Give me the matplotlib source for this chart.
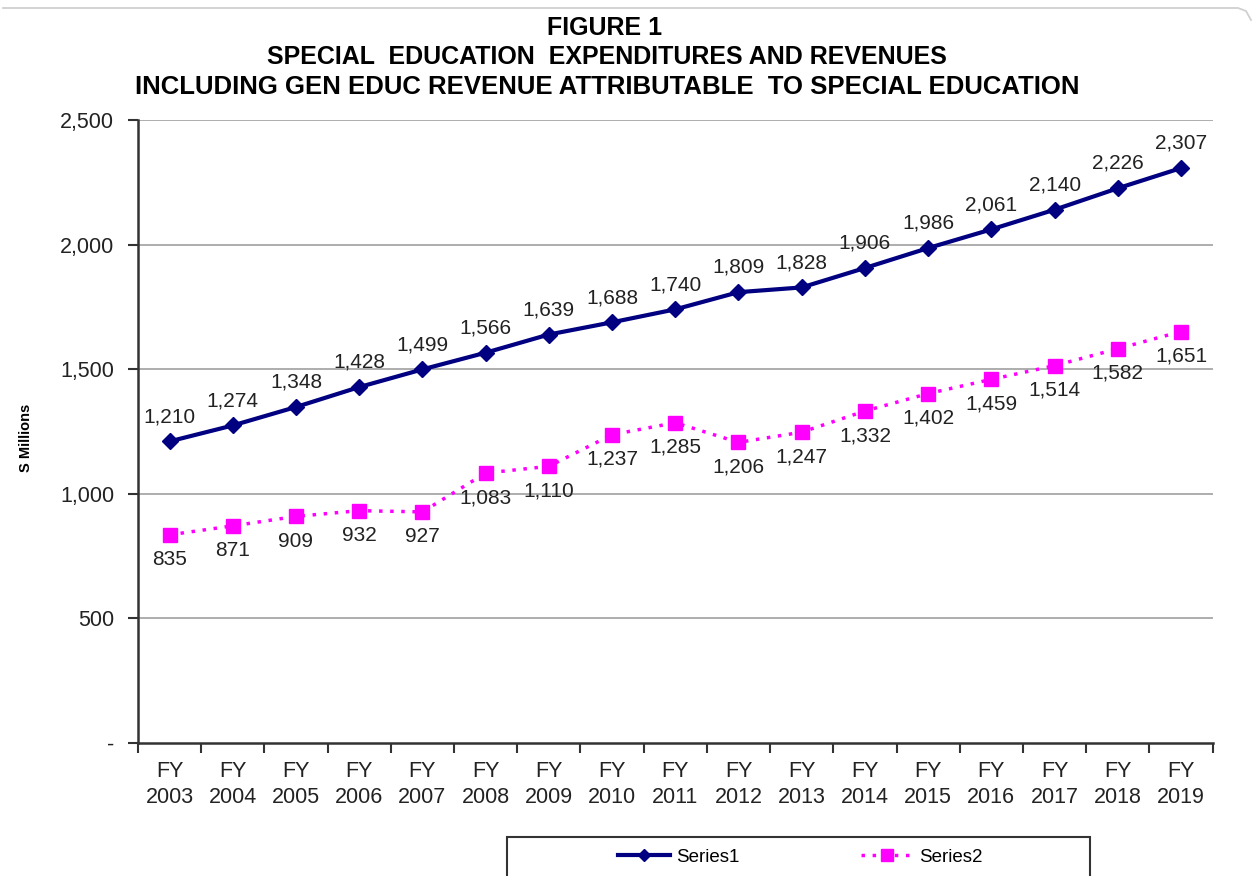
import matplotlib.pyplot as plt
from matplotlib.lines import Line2D
from matplotlib.patches import Rectangle
from matplotlib.ticker import FixedLocator

plt.rcParams['font.family'] = ['Liberation Sans', 'DejaVu Sans']

# Data
years = [f"FY\n{y}" for y in range(2003, 2020)]
series1 = [1210, 1274, 1348, 1428, 1499, 1566, 1639, 1688, 1740, 1809,
           1828, 1906, 1986, 2061, 2140, 2226, 2307]
series2 = [835, 871, 909, 932, 927, 1083, 1110, 1237, 1285, 1206,
           1247, 1332, 1402, 1459, 1514, 1582, 1651]
yticks = [0, 500, 1000, 1500, 2000, 2500]
ytick_labels = ["-", "500", "1,000", "1,500", "2,000", "2,500"]

W, H = 1254, 876
fig = plt.figure(figsize=(W / 100, H / 100), dpi=100)
ax = fig.add_axes([0.110, 0.152, 0.857, 0.711])

x = list(range(len(years)))
ax.plot(x, series1, color="#000080", lw=3, marker="D", ms=8, label="Series1", zorder=3)
ax.plot(x, series2, color="#FF00FF", lw=2.5, ls=(0, (1, 2.2)), marker="s", ms=10,
        label="Series2", zorder=3)

# data labels
for i, v in enumerate(series1):
    ax.annotate(f"{v:,}", (i, v), xytext=(0, 11), textcoords="offset points",
                ha="center", va="bottom", fontsize=15, color="#222222")
for i, v in enumerate(series2):
    ax.annotate(f"{v:,}", (i, v), xytext=(0, -11), textcoords="offset points",
                ha="center", va="top", fontsize=15, color="#222222")

ax.set_xlim(-0.5, len(years) - 0.5)
ax.set_ylim(0, 2500)
ax.set_yticks(yticks)
ax.set_yticklabels(ytick_labels, fontsize=15.5, color="#222222")
ax.set_xticks(x)
ax.set_xticklabels(years, fontsize=15.5, color="#222222", linespacing=1.3)
ax.tick_params(axis="x", which="major", length=0, pad=13)
ax.xaxis.set_minor_locator(FixedLocator([i - 0.5 for i in range(len(years) + 1)]))
ax.tick_params(axis="x", which="minor", length=7, width=1.5, color="#333333", direction="out")
ax.tick_params(axis="y", length=7, width=1.5, color="#333333", pad=10)

for yv in yticks[1:]:
    ax.axhline(yv, color="#a0a0a0", lw=1.2, zorder=1)

for s in ["top", "right"]:
    ax.spines[s].set_visible(False)
for s in ["left", "bottom"]:
    ax.spines[s].set_color("#333333")
    ax.spines[s].set_linewidth(1.8)

ax.set_ylabel("S Millions", fontsize=10.5, fontweight="bold")
ax.yaxis.set_label_coords(-0.098, 0.49)

fig.text(0.482, 0.968, "FIGURE 1", ha="center", va="center", fontsize=18, fontweight="bold")
fig.text(0.484, 0.935, "SPECIAL  EDUCATION  EXPENDITURES AND REVENUES", ha="center",
         va="center", fontsize=18, fontweight="bold")
fig.text(0.484, 0.901, "INCLUDING GEN EDUC REVENUE ATTRIBUTABLE  TO SPECIAL EDUCATION",
         ha="center", va="center", fontsize=18.5, fontweight="bold")

# faint outer frame line at the top
fig.add_artist(Line2D([3 / W, 1238 / W, 1246 / W, 1251 / W],
                      [1 - 8 / H, 1 - 8 / H, 1 - 11 / H, 1 - 20 / H],
                      transform=fig.transFigure, color="#d0d0d0", lw=1.3))

# legend box (cut off at the bottom edge)
fig.add_artist(Rectangle((507 / W, -0.05), 583 / W, 0.05 + 1 - 837 / H,
                         transform=fig.transFigure, fill=False, edgecolor="#333333", lw=1.5))
leg = fig.legend(loc="center", bbox_to_anchor=(800 / W, 1 - 857 / H), ncol=2,
                 frameon=False, fontsize=13.5, handlelength=2.8, handletextpad=0.3,
                 columnspacing=6.5, markerscale=0.8)

fig.savefig("out.png", dpi=100)
